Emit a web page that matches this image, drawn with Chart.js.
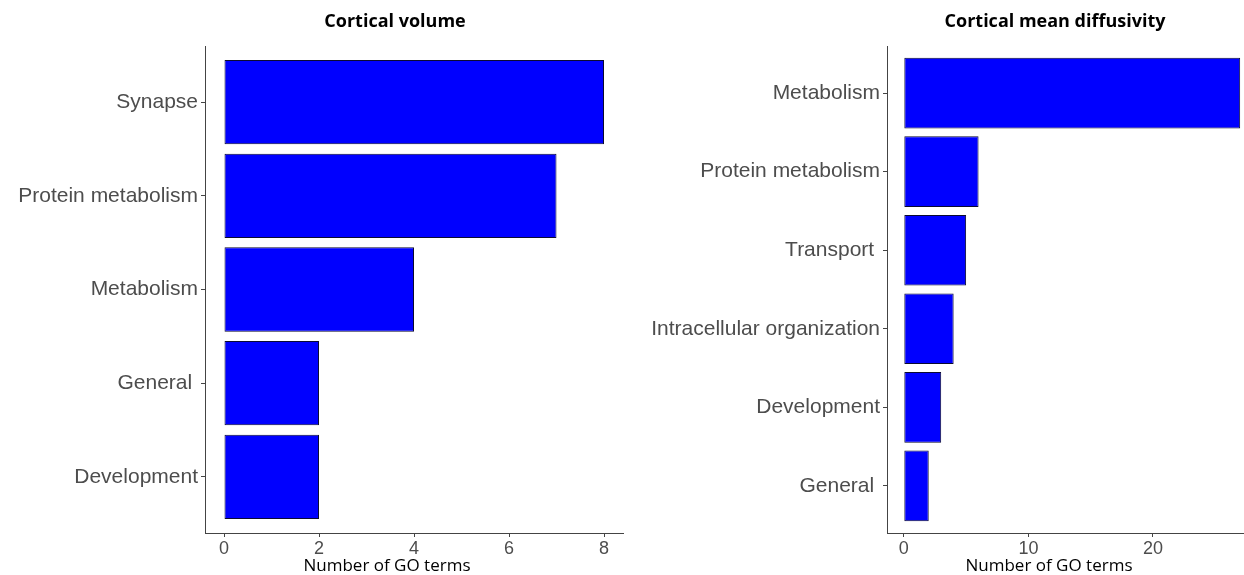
<!DOCTYPE html>
<html>
<head>
<meta charset="utf-8">
<script src="https://cdn.jsdelivr.net/npm/chart.js@4.4.0/dist/chart.umd.min.js"></script>
<style>
  html, body { margin: 0; padding: 0; background: #fff; }
  body { width: 1244px; height: 575px; overflow: hidden; position: relative; }
  .panel { position: absolute; top: 0; height: 575px; }
  #leftBox { left: 0; width: 640px; }
  #rightBox { left: 640px; width: 620px; }
</style>
</head>
<body>
<div class="panel" id="leftBox"><canvas id="volChart"></canvas></div>
<div class="panel" id="rightBox"><canvas id="mdChart"></canvas></div>
<script>
// Cortical volume (the original labels carry a trailing space on some names)
var volCategories = ['Synapse', 'Protein metabolism', 'Metabolism', 'General ', 'Development'];
var volValues = [8, 7, 4, 2, 2];
var volTicks = [0, 2, 4, 6, 8];

// Cortical mean diffusivity
var mdCategories = ['Metabolism', 'Protein metabolism', 'Transport ', 'Intracellular organization', 'Development', 'General '];
var mdValues = [27, 6, 5, 4, 3, 2];
var mdTicks = [0, 10, 20];

var axisTitle = 'Number of GO terms';

// draws the panel title and the x axis title where the original has them
var textPlugin = {
    id: 'panelText',
    afterDraw: function(chart, args, opts){
        var ctx = chart.ctx;
        ctx.save();
        ctx.fillStyle = '#000';
        ctx.textAlign = 'center';
        ctx.textBaseline = 'middle';
        ctx.font = 'bold 18px "Open Sans"';
        ctx.fillText(opts.title, opts.titleX, 22);
        ctx.font = '17px "Open Sans"';
        ctx.fillText(opts.axisTitle, opts.axisX, 566);
        ctx.restore();
    }
};

function makeChart(id, cats, vals, ticks, xmax, yWidth, padRight, title, titleX, axisX){
    var n = cats.length;
    var pad = xmax * 0.05;
    return new Chart(document.getElementById(id), {
        type: 'bar',
        data: {
            datasets: [{
                data: vals.map(function(v, i){ return {x: v, y: i + 1}; }),
                backgroundColor: '#0000ff',
                borderColor: '#0a0a30',
                borderWidth: 1,
                borderSkipped: false,
                barPercentage: 0.9,
                categoryPercentage: 1
            }]
        },
        options: {
            indexAxis: 'y',
            responsive: true,
            maintainAspectRatio: false,
            animation: false,
            layout: {padding: {top: 46, right: padRight, left: 0, bottom: 0}},
            scales: {
                x: {
                    type: 'linear',
                    min: -pad,
                    max: xmax + pad,
                    afterBuildTicks: function(s){ s.ticks = ticks.map(function(v){ return {value: v}; }); },
                    afterFit: function(s){ s.height = 42; },
                    grid: {drawOnChartArea: false, drawTicks: true, tickLength: 4, tickColor: '#444', color: '#444'},
                    border: {display: true, color: '#444', width: 1},
                    ticks: {color: '#4d4d4d', padding: 1, font: {family: '"Liberation Sans", Arial, sans-serif', size: 18}}
                },
                y: {
                    type: 'linear',
                    reverse: true,
                    offset: false,
                    min: 0.4,
                    max: n + 0.6,
                    afterBuildTicks: function(s){ s.ticks = cats.map(function(c, i){ return {value: i + 1}; }); },
                    afterFit: function(s){ s.width = yWidth; },
                    grid: {offset: false, drawOnChartArea: false, drawTicks: true, tickLength: 4, tickColor: '#444', color: '#444'},
                    border: {display: true, color: '#444', width: 1},
                    ticks: {
                        color: '#4d4d4d', padding: 3,
                        font: {family: '"Liberation Sans", Arial, sans-serif', size: 21},
                        callback: function(v){ return cats[v - 1]; }
                    }
                }
            },
            plugins: {
                legend: {display: false},
                tooltip: {enabled: false},
                panelText: {title: title, titleX: titleX, axisTitle: axisTitle, axisX: axisX}
            }
        },
        plugins: [textPlugin]
    });
}

document.addEventListener('DOMContentLoaded', function(){
    makeChart('volChart', volCategories, volValues, volTicks, 8, 205, 17, 'Cortical volume', 395, 387);
    makeChart('mdChart', mdCategories, mdValues, mdTicks, 27, 247, 3, 'Cortical mean diffusivity', 415, 409);
});
</script>
</body>
</html>
